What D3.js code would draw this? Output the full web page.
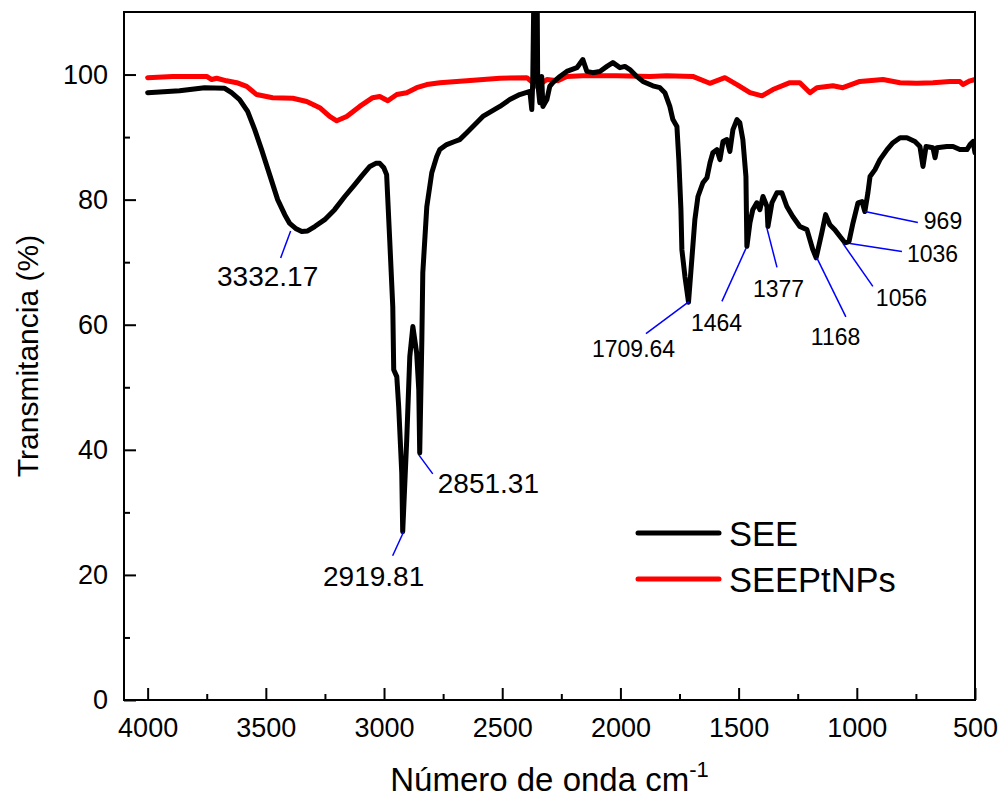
<!DOCTYPE html>
<html><head><meta charset="utf-8">
<script src="https://cdn.jsdelivr.net/npm/d3@7"></script>
<style>body{margin:0;background:#fff}svg{display:block}text{font-family:"Liberation Sans",Arial,sans-serif}</style>
</head><body><svg id="c" width="1002" height="800"></svg>
<script>
// Wavenumber (cm-1) and transmittance (%) for SEE
const seeWave = [4000,3865,3759,3674,3645,3611,3577,3547,3518,3484,3450,3420,3399,3374,3348,3323,3293,3251,3209,3166,3124,3094,3060,3035,3018,3001,2989,2976,2963,2959,2946,2938,2925,2921,2904,2891,2878,2862,2853,2849,2840,2836,2819,2798,2777,2764,2735,2701,2680,2650,2582,2510,2468,2426,2383,2375,2371,2362,2354,2350,2341,2333,2328,2311,2299,2286,2256,2227,2184,2159,2142,2117,2087,2057,2032,2002,1981,1960,1931,1905,1863,1833,1812,1791,1778,1761,1753,1744,1740,1727,1712,1698,1685,1672,1651,1634,1621,1609,1592,1579,1566,1550,1537,1524,1507,1495,1482,1469,1465,1452,1440,1423,1410,1397,1380,1376,1359,1338,1317,1296,1271,1241,1211,1186,1172,1148,1132,1114,1093,1071,1050,1033,1016,995,978,966,953,944,923,902,872,847,817,788,754,733,720,707,678,669,661,619,593,564,534,521,508,500];
const seeT = [97.1,97.4,97.9,97.8,97.1,96.0,94.1,91.2,88.0,84.0,80.0,77.6,76.2,75.4,74.9,75.0,75.7,76.8,78.4,80.5,82.4,83.8,85.3,85.8,85.8,85.1,84.0,73.6,62.9,52.8,51.7,46.9,36.3,26.9,41.6,54.9,59.7,55.5,49.6,39.5,57.6,68.3,78.9,84.3,86.9,88.0,88.8,89.3,89.6,90.7,93.3,94.9,96.0,96.8,97.3,94.4,98.7,125,125,98.7,95.5,99.7,94.9,96.0,98.1,98.7,99.7,100.5,101.1,102.4,100.5,100.3,100.5,101.3,101.9,101.1,101.3,100.8,99.7,98.9,98.2,97.9,97.1,94.9,92.8,91.7,86.4,78.4,72.0,67.7,63.6,70.4,76.8,80.5,82.7,83.5,85.9,87.5,88.0,86.4,89.3,89.6,87.7,91.2,92.8,92.3,89.6,83.7,72.5,76.3,78.4,79.5,78.4,80.5,78.9,75.7,79.5,81.1,81.1,78.9,77.3,75.7,75.2,72.0,70.7,74.7,77.6,76.0,75.2,74.1,73.1,73.3,76.3,79.5,79.7,78.1,81.1,83.7,84.8,86.4,88.0,89.1,89.9,89.9,89.3,88.5,85.3,88.5,88.3,86.7,88.3,88.5,88.5,88.0,88.0,88.8,89.3,87.5];
// Wavenumber (cm-1) and transmittance (%) for SEEPtNPs
const ptWave = [4000,3894,3750,3729,3708,3666,3623,3581,3539,3471,3386,3327,3272,3230,3200,3158,3103,3048,3018,2984,2946,2904,2862,2819,2764,2650,2510,2396,2371,2354,2341,2311,2265,2227,2159,2015,1875,1804,1694,1622,1558,1507,1452,1401,1355,1283,1241,1198,1169,1101,1059,987,889,817,746,678,606,564,551,521,500];
const ptT = [99.5,99.7,99.7,99.2,99.4,99.0,98.7,98.1,96.8,96.3,96.2,95.7,94.7,93.3,92.6,93.3,94.9,96.3,96.5,95.8,96.8,97.1,97.9,98.4,98.7,99.0,99.4,99.5,98.7,98.1,98.4,99.2,99.0,99.7,99.8,99.8,99.7,99.8,99.7,98.6,99.5,98.4,97.1,96.6,97.6,98.7,98.7,97.1,97.9,98.2,97.9,98.9,99.2,98.7,98.6,98.7,98.9,98.9,98.4,99.0,99.2];
const seriesNames = ["SEE","SEEPtNPs"];
const seriesColors = ["#000000","#ff0000"];
const xTicks = [4000,3500,3000,2500,2000,1500,1000,500];
const xMinorTicks = [3750,3250,2750,2250,1750,1250,750];
const yTicks = [0,20,40,60,80,100];
const yMinorTicks = [10,30,50,70,90];
// Peak annotations (label, wavenumber, transmittance)
const peakLabels = ["3332.17","2919.81","2851.31","1709.64","1464","1377","1168","1056","1036","969"];
const peakWave = [3395,2917,2853,1710,1469,1380,1169,1059,1029,966];
const peakT = [75.0,26.9,39.2,63.7,72.2,75.4,70.7,73.0,73.0,78.1];

const W=1002,H=800, L=124, R=975, T=12, B=700;
const svg = d3.select("#c");
svg.append("rect").attr("width",W).attr("height",H).attr("fill","#fff");
const x = d3.scaleLinear().domain([4100,500]).range([L,R]);
const y = d3.scaleLinear().domain([0,110]).range([B,T]);

svg.append("defs").append("clipPath").attr("id","clip").append("rect")
  .attr("x",L).attr("y",T).attr("width",R-L).attr("height",B-T);

const line = d3.line().x(d=>x(d[0])).y(d=>y(d[1]));
const see = seeWave.map((w,i)=>[w,seeT[i]]);
const pt = ptWave.map((w,i)=>[w,ptT[i]]);
const g = svg.append("g").attr("clip-path","url(#clip)");
g.append("path").datum(pt).attr("d",line).attr("fill","none").attr("stroke",seriesColors[1]).attr("stroke-width",5).attr("stroke-linejoin","round").attr("stroke-linecap","round");
g.append("path").datum(see).attr("d",line).attr("fill","none").attr("stroke",seriesColors[0]).attr("stroke-width",5).attr("stroke-linejoin","round").attr("stroke-linecap","round");

// axes
const xAxis = d3.axisBottom(x).tickValues(xTicks).tickSize(-12).tickPadding(18).tickFormat(d3.format("d"));
const xMinor = d3.axisBottom(x).tickValues(xMinorTicks).tickSize(-6).tickFormat("");
const yAxis = d3.axisLeft(y).tickValues(yTicks).tickSize(-12).tickPadding(16).tickFormat(d3.format("d"));
const yMinor = d3.axisLeft(y).tickValues(yMinorTicks).tickSize(-6).tickFormat("");
function style(sel){sel.select(".domain").remove();sel.selectAll("line").attr("stroke","#000").attr("stroke-width",2);sel.selectAll("text").attr("font-size",27).attr("fill","#000").attr("font-family","Liberation Sans, Arial, sans-serif");}
svg.append("g").attr("transform",`translate(0,${B})`).call(xAxis).call(style);
svg.append("g").attr("transform",`translate(0,${B})`).call(xMinor).call(style);
svg.append("g").attr("transform",`translate(${L},0)`).call(yAxis).call(style);
svg.append("g").attr("transform",`translate(${L},0)`).call(yMinor).call(style);
svg.append("rect").attr("x",L).attr("y",T).attr("width",R-L).attr("height",B-T).attr("fill","none").attr("stroke","#000").attr("stroke-width",2);

// titles
svg.append("text").attr("transform",`translate(38,${(T+B)/2}) rotate(-90)`).attr("text-anchor","middle")
  .attr("font-size",30).text("Transmitancia (%)");
const xt = svg.append("text").attr("x",(L+R)/2).attr("y",791).attr("text-anchor","middle").attr("font-size",33);
xt.append("tspan").text("Número de onda cm");
xt.append("tspan").attr("dy",-14).attr("font-size",22).text("-1");

// legend
seriesNames.forEach((n,i)=>{
  const ly = 533 + i*46;
  svg.append("line").attr("x1",638).attr("x2",719).attr("y1",ly).attr("y2",ly).attr("stroke",seriesColors[i]).attr("stroke-width",5).attr("stroke-linecap","round");
  svg.append("text").attr("x",729).attr("y",ly+13).attr("font-size",34.5).text(n);
});

// annotations: offsets in px [lineEndDx, lineEndDy, textDx, textDy, anchor, fontSize]
const annotLayout = [
  [-10,27,-23,55,"middle",28],
  [-11,24,-30,54,"middle",28],
  [14,19,19,38,"start",28],
  [-43,32,-97,55,"start",23],
  [-24,53,-55,83,"start",23],
  [10,39,-14,69,"start",23],
  [29,59,-6,87,"start",23],
  [30,43,33,63,"start",23],
  [52,8,57,19,"start",23],
  [53,11,59,17,"start",23]
];
peakLabels.forEach((lab,i)=>{
  const px=x(peakWave[i]), py=y(peakT[i]); const a=annotLayout[i];
  svg.append("line").attr("x1",px).attr("y1",py).attr("x2",px+a[0]).attr("y2",py+a[1]).attr("stroke","#0000ff").attr("stroke-width",1.5);
  svg.append("text").attr("x",px+a[2]).attr("y",py+a[3]).attr("text-anchor",a[4]).attr("font-size",a[5]).text(lab);
});
</script></body></html>
